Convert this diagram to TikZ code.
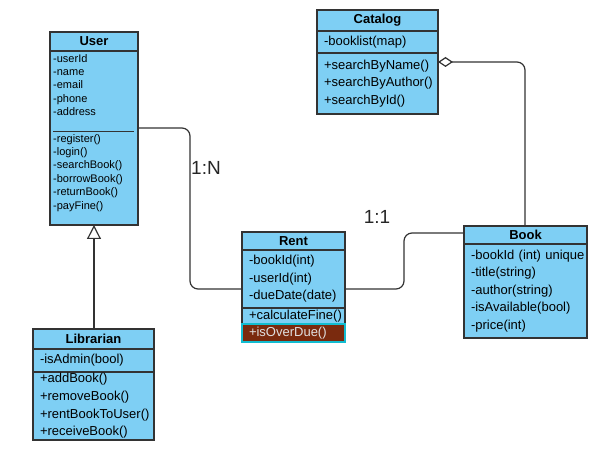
\documentclass[tikz,border=0pt]{standalone}
\usepackage{fontspec}
\setmainfont{Liberation Sans}
\usetikzlibrary{arrows.meta}

\definecolor{umlfill}{HTML}{7ECFF4}
\definecolor{umlline}{HTML}{333333}
\definecolor{hlfill}{HTML}{7A2A0E}
\definecolor{hlline}{HTML}{12BCD0}

\tikzset{
  box/.style = {draw=umlline, fill=umlfill, line width=1.2pt, anchor=north west, inner sep=0pt, outer sep=0pt},
  head/.style = {box, font=\fontsize{13}{15}\selectfont\bfseries},
  body/.style = {box, align=left, inner xsep=7pt, font=\fontsize{13}{17.6}\selectfont},
  small/.style = {anchor=north west, inner sep=0pt, align=left, font=\fontsize{11}{13.4}\selectfont},
  link/.style = {draw=umlline, line width=1.2pt, rounded corners=8pt},
  card/.style = {font=\fontsize{19}{21}\selectfont, text=black!85}
}

\begin{document}
\begin{tikzpicture}[x=1pt, y=-1pt]
  \useasboundingbox (0,0) rectangle (595,449);

  % User
  \node[head, minimum width=88, minimum height=19] (user) at (50,32) {User};
  \node[box, minimum width=88, minimum height=174] (user-body) at (user.south west) {};
  \node[small] (user-attr) at (53,54) {-userId\\-name\\-email\\-phone\\-address};
  \draw[umlline, line width=0.8pt] (53,131) -- (134,131);
  \node[small] (user-meth) at (53,134)
    {-register()\\-login()\\-searchBook()\\-borrowBook()\\-returnBook()\\-payFine()};

  % Librarian
  \node[head, minimum width=121, minimum height=20] (lib) at (33,329) {Librarian};
  \node[body, text width=107, minimum height=23] (lib-attr) at (lib.south west) {-isAdmin(bool)};
  \node[body, text width=107, minimum height=68] (lib-meth) at (lib-attr.south west)
    {+addBook()\\+removeBook()\\+rentBookToUser()\\+receiveBook()};

  % Rent
  \node[head, minimum width=103, minimum height=18] (rent) at (242,232) {Rent};
  \node[body, text width=89, minimum height=58] (rent-attr) at (rent.south west)
    {-bookId(int)\\-userId(int)\\-dueDate(date)};
  \node[body, text width=89, minimum height=16] (rent-meth) at (rent-attr.south west) {+calculateFine()};
  \node[body, text width=89, minimum height=18, draw=hlline, line width=2pt, fill=hlfill,
    text=white!88!black] (rent-due) at (rent-meth.south west) {+isOverDue()};

  % Catalog
  \node[head, minimum width=121, minimum height=21] (cat) at (317,10) {Catalog};
  \node[body, text width=107, minimum height=22] (cat-attr) at (cat.south west) {-booklist(map)};
  \node[body, text width=107, minimum height=61] (cat-meth) at (cat-attr.south west)
    {+searchByName()\\+searchByAuthor()\\+searchById()};

  % Book
  \node[head, minimum width=123, minimum height=18] (book) at (464,226) {Book};
  \node[body, text width=109, minimum height=94] (book-attr) at (book.south west)
    {\mbox{-bookId (int) unique}\\-title(string)\\-author(string)\\-isAvailable(bool)\\-price(int)};

  % connectors
  \coordinate (user-out) at (138,128);
  \coordinate (rent-in) at (242,289);
  \coordinate (rent-out) at (345,289);
  \coordinate (book-in) at (464,233);
  \coordinate (cat-out) at (438,62);

  \draw[link] (user-out) -| (190,200) |- (rent-in);
  \draw[link] (rent-out) -| (404,260) |- (book-in);
  \draw[link, {Diamond[open, length=15pt, width=10pt]}-] (cat-out) -| (book.north -| 525,0);
  \draw[link, -{Triangle[open, length=14pt, width=14pt]}] (lib.north -| 94,0) -- (user-body.south -| 94,0);

  \node[card] (card-un) at (206,168) {1:N};
  \node[card] (card-rb) at (377,217) {1:1};
\end{tikzpicture}
\end{document}
